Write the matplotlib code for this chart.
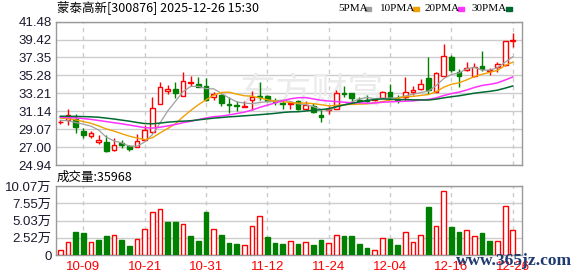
import matplotlib
matplotlib.use("Agg")
import matplotlib.pyplot as plt

# 60 trading days, 2025-09-26 .. 2025-12-26
dates = ["09-26", "09-29", "09-30", "10-09", "10-10", "10-13", "10-14", "10-15", "10-16", "10-17",
         "10-20", "10-21", "10-22", "10-23", "10-24", "10-27", "10-28", "10-29", "10-30", "10-31",
         "11-03", "11-04", "11-05", "11-06", "11-07", "11-10", "11-11", "11-12", "11-13", "11-14",
         "11-17", "11-18", "11-19", "11-20", "11-21", "11-24", "11-25", "11-26", "11-27", "11-28",
         "12-01", "12-02", "12-03", "12-04", "12-05", "12-08", "12-09", "12-10", "12-11", "12-12",
         "12-15", "12-16", "12-17", "12-18", "12-19", "12-22", "12-23", "12-24", "12-25", "12-26"]

opens = [29.85, 30.11, 30.30, 28.92, 28.27, 27.58, 27.62, 26.62, 27.43, 27.08,
         27.04, 27.81, 28.73, 31.98, 33.44, 33.75, 32.94, 34.40, 34.32, 34.09,
         32.79, 33.02, 31.95, 31.91, 31.64, 32.41, 32.94, 32.90, 32.37, 32.06,
         31.95, 32.29, 31.37, 31.79, 30.76, 31.30, 31.41, 33.29, 33.29, 32.48,
         32.48, 32.44, 32.71, 33.40, 32.60, 32.79, 33.40, 33.71, 35.01, 33.36,
         35.17, 37.42, 35.66, 35.85, 35.17, 36.39, 35.74, 36.20, 36.50, 39.26]
highs = [30.10, 31.41, 30.84, 29.23, 28.92, 28.46, 28.46, 28.08, 27.77, 27.24,
         28.54, 29.50, 32.79, 34.55, 34.17, 34.55, 35.70, 35.24, 35.09, 34.97,
         33.33, 33.17, 32.83, 32.29, 32.29, 33.52, 34.47, 33.02, 32.67, 32.33,
         32.18, 32.48, 32.37, 32.06, 31.26, 31.72, 33.63, 34.09, 33.29, 32.79,
         32.98, 32.67, 33.52, 34.32, 32.98, 35.13, 34.01, 34.86, 37.35, 35.66,
         38.95, 37.69, 36.00, 36.81, 36.73, 38.11, 36.12, 36.85, 39.22, 40.18]
lows = [29.70, 29.61, 28.65, 28.04, 28.04, 27.35, 26.43, 26.55, 26.89, 26.55,
        26.97, 27.70, 28.65, 31.98, 33.09, 32.63, 32.94, 34.01, 33.90, 32.29,
        32.48, 31.72, 30.91, 31.22, 31.60, 31.33, 32.48, 32.18, 31.91, 31.45,
        31.41, 31.26, 31.26, 30.95, 29.88, 30.80, 31.41, 32.79, 32.21, 32.10,
        32.21, 32.29, 32.63, 32.63, 32.10, 32.48, 33.02, 33.56, 33.17, 33.36,
        35.17, 35.70, 33.90, 35.74, 35.09, 35.77, 35.36, 35.62, 36.39, 38.61]
closes = [29.95, 30.76, 29.34, 28.38, 28.65, 27.77, 26.55, 27.27, 27.20, 26.81,
          27.73, 28.96, 31.52, 33.94, 33.71, 33.21, 34.63, 34.55, 33.98, 32.41,
          33.10, 32.06, 31.87, 31.72, 31.72, 32.75, 32.75, 32.37, 32.25, 31.98,
          32.06, 31.37, 31.91, 31.07, 30.49, 31.41, 33.29, 33.17, 32.63, 32.33,
          32.29, 32.56, 33.40, 32.75, 32.48, 33.40, 33.56, 34.32, 33.63, 35.55,
          37.54, 35.93, 35.17, 36.12, 36.24, 36.04, 35.89, 36.62, 39.22, 39.37]

ma5 = [30.10, 30.05, 29.85, 29.65, 29.42, 28.98, 28.14, 27.72, 27.49, 27.12,
       27.11, 27.59, 28.44, 29.79, 31.17, 32.27, 33.40, 34.01, 34.02, 33.76,
       33.73, 33.22, 32.68, 32.23, 32.09, 32.02, 32.16, 32.26, 32.37, 32.42,
       32.28, 32.01, 31.91, 31.68, 31.38, 31.25, 31.63, 31.89, 32.20, 32.57,
       32.74, 32.60, 32.64, 32.67, 32.70, 32.92, 33.12, 33.30, 33.48, 34.09,
       34.92, 35.39, 35.56, 36.06, 36.20, 35.90, 35.89, 36.18, 36.80, 37.43]
ma10 = [30.35, 30.30, 30.15, 29.95, 29.75, 29.45, 29.10, 28.85, 28.55, 28.27,
        28.05, 27.87, 28.08, 28.64, 29.15, 29.69, 30.50, 31.23, 31.90, 32.46,
        33.00, 33.31, 33.35, 33.12, 32.93, 32.88, 32.69, 32.47, 32.30, 32.26,
        32.15, 32.08, 32.09, 32.02, 31.90, 31.77, 31.82, 31.90, 31.94, 31.97,
        32.00, 32.12, 32.26, 32.43, 32.63, 32.83, 32.86, 32.97, 33.07, 33.39,
        33.92, 34.26, 34.43, 34.77, 35.15, 35.41, 35.64, 35.87, 36.43, 36.81]
ma20 = [30.45, 30.42, 30.38, 30.30, 30.20, 30.08, 29.95, 29.82, 29.70, 29.55,
        29.40, 29.25, 29.20, 29.30, 29.45, 29.62, 29.82, 29.98, 30.18, 30.37,
        30.52, 30.59, 30.72, 30.88, 31.04, 31.28, 31.59, 31.85, 32.10, 32.36,
        32.58, 32.70, 32.72, 32.57, 32.41, 32.32, 32.26, 32.19, 32.12, 32.12,
        32.07, 32.10, 32.18, 32.23, 32.27, 32.30, 32.34, 32.44, 32.51, 32.68,
        32.96, 33.19, 33.35, 33.60, 33.89, 34.12, 34.25, 34.42, 34.75, 35.10]
ma30 = [30.57, 30.56, 30.55, 30.53, 30.50, 30.45, 30.35, 30.25, 30.12, 30.00,
        29.85, 29.72, 29.70, 29.78, 29.88, 29.95, 30.00, 30.05, 30.15, 30.25,
        30.35, 30.42, 30.50, 30.55, 30.62, 30.68, 30.75, 30.82, 30.90, 31.00,
        31.07, 31.09, 31.17, 31.26, 31.32, 31.45, 31.67, 31.87, 32.05, 32.23,
        32.38, 32.50, 32.57, 32.53, 32.49, 32.49, 32.46, 32.45, 32.44, 32.54,
        32.69, 32.82, 32.93, 33.08, 33.23, 33.34, 33.44, 33.58, 33.81, 34.06]

# volume in 万 shares, and colour of each volume bar (r = up, g = down)
volumes = [0.77, 1.94, 3.29, 3.15, 1.94, 2.23, 2.81, 2.95, 2.23, 1.36,
           2.32, 3.78, 6.24, 6.68, 4.84, 4.84, 4.55, 2.81, 2.08, 6.29,
           3.78, 2.95, 1.79, 1.65, 1.45, 4.21, 5.71, 2.66, 1.79, 1.65,
           2.03, 1.65, 1.94, 1.50, 2.23, 1.79, 2.90, 2.81, 2.81, 1.65,
           1.06, 0.73, 2.47, 2.37, 1.50, 3.34, 1.94, 2.90, 7.02, 4.21,
           9.29, 4.11, 3.39, 3.63, 2.76, 3.24, 2.08, 2.03, 7.11, 3.60]
vol_colors = ["r", "r", "g", "g", "r", "g", "g", "r", "g", "g",
              "r", "r", "r", "r", "g", "g", "r", "g", "g", "g",
              "r", "g", "g", "g", "r", "r", "r", "g", "g", "g",
              "r", "g", "r", "g", "g", "r", "r", "g", "g", "g",
              "g", "r", "r", "g", "g", "r", "r", "r", "g", "r",
              "r", "g", "g", "r", "r", "g", "g", "r", "r", "r"]

price_ticks = [24.94, 27.00, 29.07, 31.14, 33.21, 35.28, 37.35, 39.42, 41.48]
vol_ticks = [0, 2.52, 5.03, 7.55, 10.07]
vol_tick_labels = ["0", "2.52万", "5.03万", "7.55万", "10.07万"]
tick_idx = [3, 11, 19, 27, 35, 43, 51, 59]
ma_names = ["5PMA", "10PMA", "20PMA", "30PMA"]

RED = "#ff0000"
GREEN = "#008000"
GRID = "#cccccc"
SPINE = "#999999"
ma_colors = ["#a0a0a0", "#f0a000", "#ff33ff", "#006a33"]

plt.rcParams["font.family"] = ["Liberation Sans", "Noto Sans CJK SC"]

W, H = 578, 276
fig = plt.figure(figsize=(W / 100, H / 100), dpi=100)


def box(left, top, right, bottom):
    return [left / W, 1 - bottom / H, (right - left) / W, (bottom - top) / H]


ax = fig.add_axes(box(55.7, 21.7, 522, 165))
axv = fig.add_axes(box(55.7, 186, 522, 255))

n = len(closes)
x = list(range(n))

# candles
for i in x:
    up = closes[i] >= opens[i]
    col = RED if up else GREEN
    ax.vlines(i, lows[i], highs[i], color=col, lw=1, zorder=2)
    lo = min(opens[i], closes[i])
    hgt = max(abs(closes[i] - opens[i]), 0.04)
    ax.bar(i, hgt, bottom=lo, width=0.62, facecolor="white" if up else GREEN,
           edgecolor=col, linewidth=1, zorder=3)

for vals, c, lw in zip([ma5, ma10, ma20, ma30], ma_colors, [0.9, 1.0, 1.1, 1.1]):
    ax.plot(x, vals, color=c, lw=lw, zorder=4)

ax.set_xlim(-0.6, 60.2)
ax.set_ylim(24.94, 41.48)
ax.set_yticks(price_ticks)
ax.set_yticklabels(["%.2f" % v for v in price_ticks])
ax.set_xticks(tick_idx)
ax.set_xticklabels([])

# volume bars
for i in x:
    if vol_colors[i] == "r":
        axv.bar(i, volumes[i], width=0.62, facecolor="white", edgecolor=RED, linewidth=1, zorder=3)
    else:
        axv.bar(i, volumes[i], width=0.62, facecolor=GREEN, edgecolor=GREEN, linewidth=1, zorder=3)
axv.set_xlim(-0.6, 60.2)
axv.set_ylim(0, 10.07)
axv.set_yticks(vol_ticks)
axv.set_yticklabels(vol_tick_labels)
axv.set_xticks(tick_idx)
axv.set_xticklabels([dates[i] for i in tick_idx], color=RED, fontsize=9)

for a in (ax, axv):
    for s in a.spines.values():
        s.set_color(SPINE)
        s.set_linewidth(1)
    a.tick_params(length=0, labelsize=9.5, pad=3)
    a.grid(axis="y", color=GRID, lw=1, zorder=0)
    a.grid(axis="x", color=GRID, lw=1, ls=(0, (3, 3)), zorder=0)
    a.set_axisbelow(True)
    for lab in a.get_yticklabels():
        lab.set_color("#1a1a2e")
axv.tick_params(axis="x", pad=4)

# faint watermark inside price panel
ax.text(0.55, 0.5, "东方财富", transform=ax.transAxes, fontsize=26,
        color="#ebebeb", family="Noto Sans CJK SC", ha="center", va="center", zorder=1)

fig.text(57 / W, 1 - 8 / H, "蒙泰高新[300876] 2025-12-26 15:30", fontsize=9,
         family=["Noto Sans CJK SC"], va="center", ha="left", color="#000000")

# MA legend: name then small coloured square
name_x = [338, 380, 425, 472]
square_x = [365, 413, 458, 506]
for name, c, nx, sx in zip(ma_names, ma_colors, name_x, square_x):
    fig.text(nx / W, 1 - 8.5 / H, name, fontsize=8, family="Liberation Serif",
             va="center", ha="left", color="#000000")
    fig.patches.append(plt.Rectangle((sx / W, 1 - 10.5 / H), 6 / W, 4 / H,
                                     transform=fig.transFigure, color=c))

fig.text(57 / W, 1 - 177 / H, "成交量:35968", fontsize=9,
         family=["Noto Sans CJK SC"], va="center", ha="left", color="#000000")

fig.text(456 / W, 1 - 261 / H, "www.365jz.com", fontsize=12.5, family="Liberation Serif",
         color="#1f3a70", va="center", ha="left", fontweight="bold")

fig.savefig("out.png", dpi=100)
